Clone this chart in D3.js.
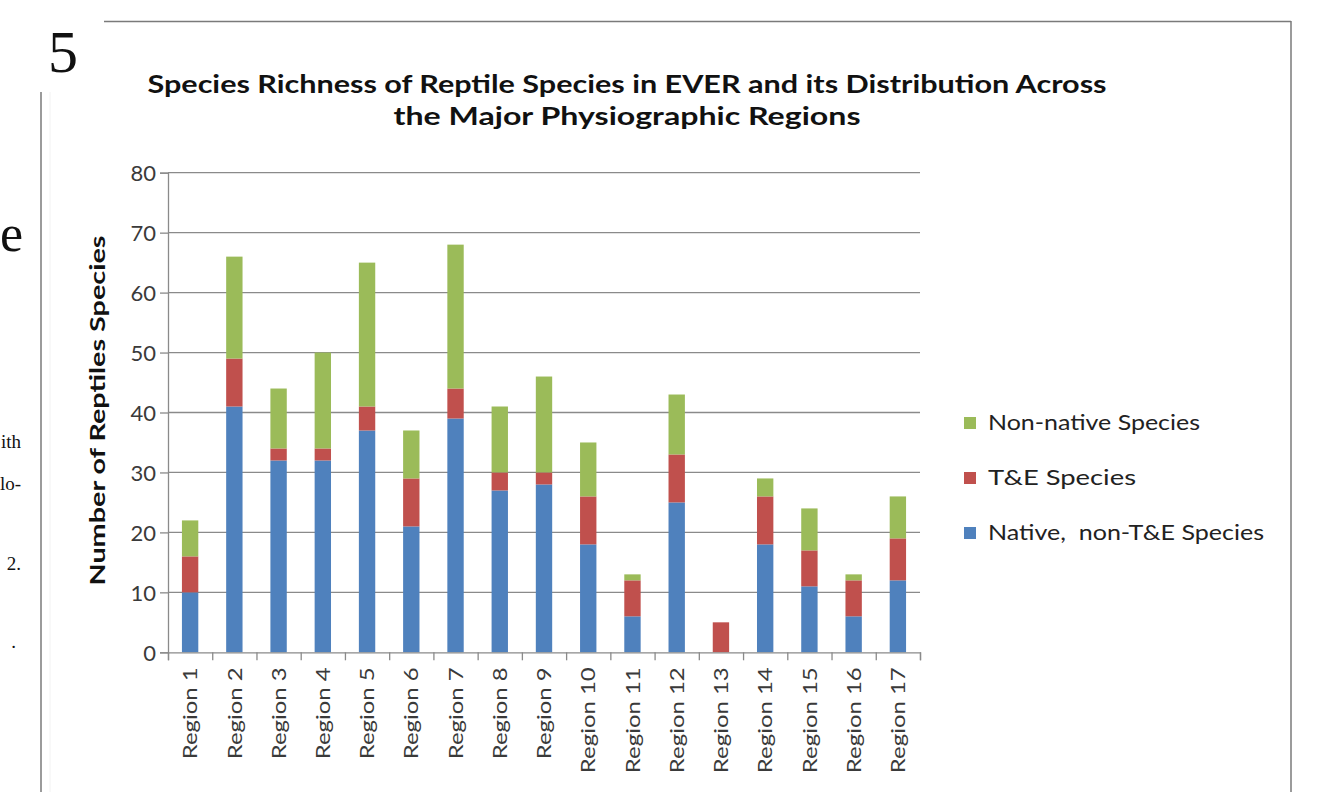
<!DOCTYPE html>
<html>
<head>
<meta charset="utf-8">
<script src="https://cdn.jsdelivr.net/npm/d3@7"></script>
<style>
  html, body { margin: 0; padding: 0; background: #ffffff; }
  svg { display: block; }
  text { white-space: pre; }
</style>
</head>
<body>
<svg id="chart" width="1334" height="792"></svg>
<script>
// Reptile species richness per physiographic region, stacked by status
const regions = ["Region 1","Region 2","Region 3","Region 4","Region 5","Region 6","Region 7","Region 8","Region 9",
                 "Region 10","Region 11","Region 12","Region 13","Region 14","Region 15","Region 16","Region 17"];
const nativeNonTE = [10,41,32,32,37,21,39,27,28,18,6,25,0,18,11,6,12];
const teSpecies   = [6,8,2,2,4,8,5,3,2,8,6,8,5,8,6,6,7];
const nonNative   = [6,17,10,16,24,8,24,11,16,9,1,10,0,3,7,1,7];
const yTicks = [0,10,20,30,40,50,60,70,80];
const seriesKeys = ["native","te","nonnative"];
const seriesNames = {native: "Native,  non-T&E Species", te: "T&E Species", nonnative: "Non-native Species"};
const legendOrder = ["nonnative","te","native"];
const titleLines = ["Species Richness of Reptile Species in EVER and its Distribution Across",
                    "the Major Physiographic Regions"];
const yTitle = "Number of Reptiles Species";

const colors = {native: "#4F81BD", te: "#C0504D", nonnative: "#9BBB59"};
const uiFont = "Lato, 'Open Sans', 'Liberation Sans', sans-serif";
const gridColor = "#8a8a8a";

const svg = d3.select("#chart");

function fit(sel, len) {
  sel.attr("textLength", len).attr("lengthAdjust", "spacingAndGlyphs");
}

// ---- surrounding page fragments and frame ----
svg.append("line").attr("x1", 104).attr("x2", 1291).attr("y1", 21.5).attr("y2", 21.5)
  .attr("stroke", "#7a7a7a").attr("stroke-width", 1.5);
svg.append("line").attr("x1", 1291).attr("x2", 1291).attr("y1", 21).attr("y2", 792)
  .attr("stroke", "#7a7a7a").attr("stroke-width", 1.5);
svg.append("line").attr("x1", 41).attr("x2", 41).attr("y1", 92).attr("y2", 792)
  .attr("stroke", "#7a7a7a").attr("stroke-width", 1.5);
svg.append("line").attr("x1", 50).attr("x2", 50).attr("y1", 92).attr("y2", 792)
  .attr("stroke", "#f2f2f2").attr("stroke-width", 1);

const serif = "'Liberation Serif', 'DejaVu Serif', serif";
svg.append("text").attr("x", 63).attr("y", 72).attr("text-anchor", "middle")
  .attr("font-family", serif).attr("font-size", 60).attr("fill", "#111").text("5");
const fragments = [
  {t: "e", y: 251, size: 52, x: 23},
  {t: "ith", y: 448, size: 19, x: 21},
  {t: "lo-", y: 490, size: 19, x: 21},
  {t: "2.", y: 570, size: 19, x: 21},
  {t: ".", y: 648, size: 19, x: 16}
];
svg.append("g").selectAll("text").data(fragments).join("text")
  .attr("x", d => d.x)
  .attr("y", d => d.y).attr("text-anchor", "end")
  .attr("font-family", serif).attr("font-size", d => d.size).attr("fill", "#111")
  .text(d => d.t);

// ---- chart geometry ----
const plot = {left: 168, right: 920, top: 172.7, bottom: 652.3};
const x = d3.scaleBand().domain(regions).range([plot.left, plot.right]).padding(0);
const barW = x.bandwidth() * 0.37;
const y = d3.scaleLinear().domain([0, 80]).range([plot.bottom, plot.top]);
const slot = d3.scaleLinear().domain([0, regions.length]).range([plot.left, plot.right]);

// gridlines
svg.append("g").selectAll("line").data(yTicks.filter(v => v > 0)).join("line")
  .attr("x1", plot.left).attr("x2", plot.right)
  .attr("y1", d => y(d)).attr("y2", d => y(d))
  .attr("stroke", gridColor).attr("stroke-width", 1.3);

// stacked bars
const rows = regions.map((r, i) => ({region: r, native: nativeNonTE[i], te: teSpecies[i], nonnative: nonNative[i]}));
const stacked = d3.stack().keys(seriesKeys)(rows);
svg.append("g").selectAll("g").data(stacked).join("g")
  .attr("fill", s => colors[s.key])
  .selectAll("rect").data(s => s).join("rect")
  .attr("x", d => x(d.data.region) + (x.bandwidth() - barW) / 2)
  .attr("width", barW)
  .attr("y", d => y(d[1]))
  .attr("height", d => y(d[0]) - y(d[1]));

// y axis
const yAxis = svg.append("g").attr("transform", `translate(${plot.left},0)`)
  .call(d3.axisLeft(y).tickValues(yTicks).tickSize(8).tickPadding(6));
yAxis.select(".domain").attr("stroke", gridColor).attr("stroke-width", 1.3);
yAxis.selectAll(".tick line").attr("stroke", gridColor).attr("stroke-width", 1.3);
yAxis.selectAll(".tick text").attr("font-family", uiFont).attr("font-size", 22)
  .attr("fill", "#3a3a3a").attr("dy", "0.36em").attr("x", -12);

// x axis: boundary ticks
const xTicksAxis = svg.append("g").attr("transform", `translate(0,${plot.bottom})`)
  .call(d3.axisBottom(slot).tickValues(d3.range(regions.length + 1)).tickSize(8).tickFormat(""));
xTicksAxis.select(".domain").attr("stroke", gridColor).attr("stroke-width", 1.3);
xTicksAxis.selectAll(".tick line").attr("stroke", gridColor).attr("stroke-width", 1.3);

// x axis: rotated category labels
const xLabels = svg.append("g").attr("transform", `translate(0,${plot.bottom})`)
  .call(d3.axisBottom(x).tickSize(0).tickPadding(0));
xLabels.select(".domain").remove();
const lbl = xLabels.selectAll(".tick text")
  .attr("font-family", uiFont).attr("font-size", 20).attr("fill", "#3a3a3a")
  .attr("text-anchor", "end")
  .attr("transform", "rotate(-90)")
  .attr("x", -15).attr("y", 0).attr("dy", "0.36em");
const baseLen = lbl.filter(d => d === "Region 1").node().getComputedTextLength();
const stretch = 92 / baseLen;
lbl.each(function() { d3.select(this).call(fit, this.getComputedTextLength() * stretch); });

// y axis title
svg.append("text")
  .attr("transform", `translate(105,${(plot.top + plot.bottom) / 2 - 2}) rotate(-90)`)
  .attr("text-anchor", "middle")
  .attr("font-family", uiFont).attr("font-weight", "bold").attr("font-size", 21).attr("fill", "#111")
  .text(yTitle).call(fit, 350);

// title
const titleY = [93, 125];
const titleLen = [959, 467];
svg.append("g").selectAll("text").data(titleLines).join("text")
  .attr("x", 627).attr("y", (d, i) => titleY[i]).attr("text-anchor", "middle")
  .attr("font-family", uiFont).attr("font-weight", "bold").attr("font-size", 25).attr("fill", "#111")
  .text(d => d)
  .each(function(d, i) { d3.select(this).call(fit, titleLen[i]); });

// legend
const legendLen = {nonnative: 212, te: 148, native: 276};
const legend = svg.append("g").selectAll("g").data(legendOrder).join("g")
  .attr("transform", (d, i) => `translate(964,${414 + i * 55})`);
legend.append("rect").attr("width", 12).attr("height", 12).attr("y", 3)
  .attr("fill", d => colors[d]);
legend.append("text").attr("x", 24).attr("y", 16)
  .attr("font-family", uiFont).attr("font-size", 21).attr("fill", "#222")
  .text(d => seriesNames[d])
  .each(function(d) { d3.select(this).call(fit, legendLen[d]); });
</script>
</body>
</html>
